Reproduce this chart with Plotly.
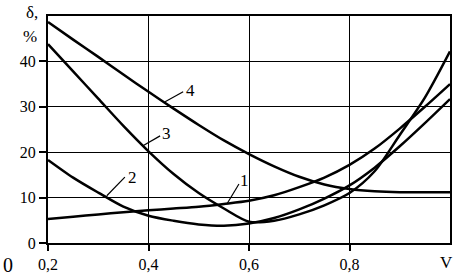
import plotly.graph_objects as go

V = [0.20, 0.25, 0.30, 0.35, 0.40, 0.45, 0.50, 0.55, 0.60, 0.65, 0.70,
     0.75, 0.80, 0.85, 0.90, 0.95, 1.00]
curve1 = [5.3, 5.8, 6.3, 6.8, 7.2, 7.6, 8.0, 8.6, 9.3, 10.5, 12.3,
          14.4, 17.2, 20.8, 25.2, 30.0, 35.0]
curve2 = [18.3, 14.4, 11.1, 8.0, 6.0, 4.9, 4.1, 3.8, 4.3, 5.5, 7.4,
          9.8, 12.7, 16.6, 21.3, 26.4, 31.7]
curve3 = [43.8, 37.8, 31.8, 25.8, 20.2, 15.2, 11.0, 7.6, 4.7, 4.9, 6.3,
          8.3, 11.0, 15.8, 23.8, 32.0, 42.2]
curve4 = [48.7, 44.8, 41.0, 37.1, 33.3, 29.6, 26.0, 22.6, 19.6, 16.9, 14.6,
          12.9, 11.9, 11.4, 11.2, 11.2, 11.2]
series = {"1": curve1, "2": curve2, "3": curve3, "4": curve4}

x_ticks = [0.2, 0.4, 0.6, 0.8]
x_ticktext = ["0,2", "0,4", "0,6", "0,8"]
y_ticks = [0, 10, 20, 30, 40]
y_ticktext = ["0", "10", "20", "30", "40"]

FONT = "Liberation Serif, Times New Roman, serif"
W, H = 456, 277
ML, MR, MT, MB = 48, 6, 16, 34

fig = go.Figure()
for name, ys in series.items():
    fig.add_trace(go.Scatter(x=V, y=ys, mode="lines", name=name,
                             line=dict(color="black", width=2.5, shape="spline", smoothing=0.8),
                             showlegend=False, hoverinfo="skip"))

# leader lines for curve labels (data coords)
leaders = [
    (0.556, 8.6, 0.580, 13.0),
    (0.317, 10.4, 0.353, 14.5),
    (0.389, 21.4, 0.423, 23.6),
    (0.433, 31.1, 0.469, 33.3),
]
for x0, y0, x1, y1 in leaders:
    fig.add_shape(type="line", x0=x0, y0=y0, x1=x1, y1=y1,
                  line=dict(color="black", width=1.2))

label_pos = {"1": (0.591, 13.8), "2": (0.369, 14.4), "3": (0.436, 24.2), "4": (0.483, 33.5)}
for txt, (lx, ly) in label_pos.items():
    fig.add_annotation(x=lx, y=ly, text=txt, showarrow=False,
                       font=dict(family=FONT, size=17, color="black"),
                       xanchor="center", yanchor="middle")


def px_x(px):
    return (px - ML) / (W - ML - MR)


def px_y(py):
    return (H - MB - py) / (H - MT - MB)


for txt, px, py, sz in [("δ,", 32, 12, 17), ("%", 30, 36, 17), ("V", 446, 262, 17), ("0", 8, 265, 20)]:
    fig.add_annotation(x=px_x(px), y=px_y(py), xref="paper", yref="paper", text=txt,
                       showarrow=False, xanchor="center", yanchor="middle",
                       font=dict(family=FONT, size=sz, color="black"))

axis_common = dict(showgrid=True, gridcolor="black", gridwidth=1.3,
                   showline=True, linecolor="black", linewidth=2, mirror=True,
                   ticks="outside", tickwidth=1.5, tickcolor="black",
                   zeroline=False, tickfont=dict(family=FONT, size=16, color="black"))

fig.update_layout(
    width=W, height=H,
    margin=dict(l=ML, r=MR, t=MT, b=MB, autoexpand=False),
    paper_bgcolor="white", plot_bgcolor="white",
    font=dict(family=FONT, size=16, color="black"),
    xaxis=dict(range=[0.2, 1.0], tickvals=x_ticks, ticktext=x_ticktext, ticklen=6,
               automargin=False, **axis_common),
    yaxis=dict(range=[0, 50], tickvals=y_ticks, ticktext=y_ticktext, ticklen=7,
               automargin=False, **axis_common),
)

fig.write_html("out.html", config={"displayModeBar": False},
               post_script="document.body.style.margin='0';document.body.style.overflow='hidden';")
